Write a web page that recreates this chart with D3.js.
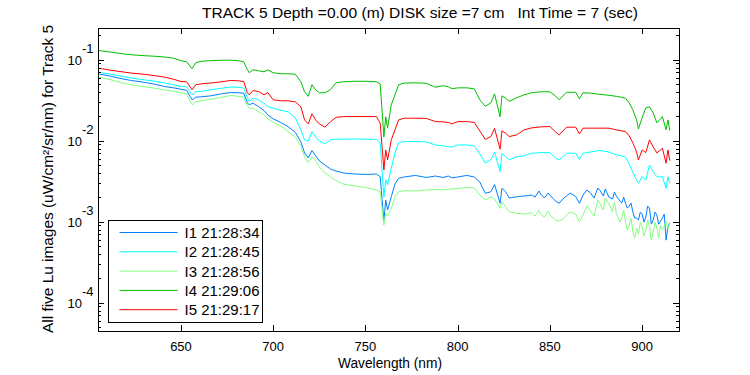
<!DOCTYPE html>
<html>
<head>
<meta charset="utf-8">
<title>Track 5 Lu spectra</title>
<script src="https://d3js.org/d3.v7.min.js"></script>
<style>
  body { margin: 0; background: #fff; }
  text { font-family: "Liberation Sans", Arial, sans-serif; fill: #000; white-space: pre; }
</style>
</head>
<body>
<script>
// wavelength grid (nm)
const wavelength = [605,612,618,623,630,636,641,646,650,653,
  656,658,661,666,672,677,681,684,686,687,
  689,692,695,697,700,704,708,712,715,717,
  719,721,723,725,728,731,734,738,744,750,
  756,758,760,761,762,764,766,768,771,777,
  783,788,792,795,797,800,805,809,812,815,
  818,820,823,824,826,828,832,836,840,845,
  850,853,855,859,864,866,868,872,877,882,
  886,889,891,893,895,897,898,900,902,904,
  906,908,910,911,913,914,915];

// log10 of Lu (uW/cm^2/sr/nm)
const luI1 = [-1.173,-1.204,-1.235,-1.256,-1.278,-1.303,-1.330,-1.347,-1.365,-1.377,
  -1.495,-1.462,-1.458,-1.446,-1.421,-1.405,-1.408,-1.412,-1.532,-1.557,
  -1.536,-1.578,-1.627,-1.681,-1.730,-1.774,-1.825,-1.897,-2.015,-2.151,
  -2.213,-2.120,-2.188,-2.250,-2.299,-2.349,-2.374,-2.398,-2.411,-2.417,
  -2.411,-2.444,-2.993,-2.733,-2.856,-2.692,-2.535,-2.464,-2.448,-2.429,
  -2.454,-2.436,-2.454,-2.436,-2.460,-2.448,-2.429,-2.448,-2.510,-2.650,
  -2.630,-2.541,-2.773,-2.588,-2.630,-2.708,-2.692,-2.683,-2.671,-2.658,
  -2.671,-2.745,-2.773,-2.683,-2.689,-2.773,-2.671,-2.646,-2.609,-2.696,
  -2.683,-2.770,-2.773,-2.807,-2.881,-2.955,-2.980,-2.906,-2.943,-2.832,
  -2.980,-2.918,-2.993,-2.955,-3.228,-3.063,-3.014];

const luI2 = [-1.152,-1.179,-1.204,-1.226,-1.248,-1.266,-1.288,-1.309,-1.328,-1.334,
  -1.433,-1.396,-1.390,-1.371,-1.353,-1.338,-1.340,-1.350,-1.470,-1.516,
  -1.474,-1.495,-1.536,-1.578,-1.600,-1.625,-1.640,-1.718,-1.866,-1.990,
  -2.002,-1.891,-1.953,-2.002,-2.040,-1.990,-1.981,-1.981,-1.978,-1.981,
  -1.984,-2.031,-2.696,-2.485,-2.547,-2.340,-2.151,-2.027,-2.011,-2.011,
  -2.015,-2.052,-2.064,-2.073,-2.077,-2.052,-2.052,-2.064,-2.163,-2.275,
  -2.238,-2.139,-2.382,-2.155,-2.197,-2.238,-2.197,-2.188,-2.155,-2.147,
  -2.147,-2.213,-2.238,-2.155,-2.155,-2.229,-2.155,-2.139,-2.120,-2.139,
  -2.176,-2.188,-2.204,-2.287,-2.386,-2.485,-2.526,-2.444,-2.485,-2.300,
  -2.386,-2.444,-2.448,-2.444,-2.588,-2.444,-2.526];

const luI3 = [-1.214,-1.248,-1.285,-1.309,-1.334,-1.353,-1.371,-1.390,-1.408,-1.421,
  -1.557,-1.520,-1.507,-1.489,-1.464,-1.442,-1.452,-1.462,-1.569,-1.598,
  -1.598,-1.640,-1.681,-1.730,-1.774,-1.817,-1.887,-1.959,-2.064,-2.200,
  -2.271,-2.200,-2.250,-2.324,-2.395,-2.448,-2.491,-2.535,-2.559,-2.578,
  -2.609,-2.630,-3.042,-2.897,-2.931,-2.835,-2.696,-2.630,-2.618,-2.621,
  -2.609,-2.600,-2.609,-2.600,-2.597,-2.590,-2.578,-2.584,-2.671,-2.733,
  -2.692,-2.720,-2.835,-2.754,-2.819,-2.877,-2.897,-2.906,-2.890,-2.906,
  -2.918,-2.980,-2.993,-2.918,-2.906,-3.001,-2.918,-2.869,-2.770,-2.782,
  -2.894,-2.943,-3.005,-3.042,-3.129,-3.079,-3.153,-3.054,-3.116,-3.063,
  -3.129,-3.079,-3.042,-3.104,-3.001,-3.092,-3.021];

const luI4 = [-0.885,-0.906,-0.926,-0.938,-0.950,-0.957,-0.966,-0.981,-1.012,-1.025,
  -1.111,-1.037,-1.019,-1.012,-1.006,-1.006,-1.012,-1.025,-1.124,-1.161,
  -1.124,-1.136,-1.149,-1.124,-1.161,-1.173,-1.173,-1.179,-1.272,-1.396,
  -1.452,-1.309,-1.371,-1.408,-1.408,-1.371,-1.285,-1.272,-1.266,-1.266,
  -1.272,-1.297,-1.953,-1.705,-1.842,-1.557,-1.433,-1.309,-1.288,-1.285,
  -1.291,-1.340,-1.322,-1.334,-1.359,-1.347,-1.347,-1.359,-1.495,-1.575,
  -1.532,-1.421,-1.705,-1.446,-1.476,-1.514,-1.470,-1.433,-1.408,-1.396,
  -1.396,-1.446,-1.495,-1.402,-1.402,-1.483,-1.408,-1.412,-1.427,-1.439,
  -1.452,-1.464,-1.476,-1.532,-1.619,-1.743,-1.854,-1.718,-1.594,-1.582,
  -1.656,-1.780,-1.730,-1.702,-1.866,-1.743,-1.875];

const luI5 = [-1.103,-1.130,-1.149,-1.165,-1.179,-1.198,-1.214,-1.241,-1.269,-1.272,
  -1.371,-1.309,-1.297,-1.288,-1.272,-1.256,-1.260,-1.269,-1.408,-1.433,
  -1.380,-1.392,-1.433,-1.405,-1.495,-1.507,-1.507,-1.520,-1.582,-1.743,
  -1.792,-1.668,-1.743,-1.792,-1.833,-1.767,-1.712,-1.702,-1.702,-1.702,
  -1.702,-1.783,-2.361,-2.114,-2.238,-1.990,-1.866,-1.743,-1.722,-1.722,
  -1.724,-1.764,-1.767,-1.776,-1.792,-1.764,-1.764,-1.774,-1.879,-1.984,
  -1.949,-1.848,-2.105,-1.879,-1.907,-1.949,-1.928,-1.866,-1.842,-1.829,
  -1.825,-1.891,-1.928,-1.833,-1.833,-1.916,-1.845,-1.845,-1.845,-1.845,
  -1.866,-1.879,-1.887,-1.941,-2.027,-2.139,-2.238,-2.114,-2.147,-1.990,
  -2.077,-2.151,-2.114,-2.093,-2.278,-2.114,-2.246];

// extra points in the noisy red end of I1 and I3
const tailWavelength = [842,844,847,849,857,861,870,874,876,879,
  880,884,885,888,890,892,894,896,899,901,
  903,905,907,909,912];
const luI1Tail = [-2.696,-2.621,-2.708,-2.646,-2.720,-2.646,-2.609,-2.708,-2.584,-2.683,
  -2.597,-2.720,-2.634,-2.745,-2.696,-2.832,-2.770,-2.955,-2.881,-3.005,
  -2.807,-3.030,-2.881,-3.030,-2.906];
const luI3Tail = [-2.931,-2.856,-2.943,-2.869,-2.968,-2.881,-2.807,-2.931,-2.733,-2.856,
  -2.708,-2.881,-2.757,-3.005,-2.856,-3.104,-2.955,-3.203,-3.005,-3.178,
  -2.980,-3.228,-3.005,-3.203,-3.054];

const seriesNames = ['I1 21:28:34', 'I2 21:28:45', 'I3 21:28:56', 'I4 21:29:06', 'I5 21:29:17'];
const seriesColors = ['#0080ff', '#00ffff', '#80ff80', '#00c000', '#ff0000'];
const xTicks = [650, 700, 750, 800, 850, 900];
const yTickExps = [-1, -2, -3, -4];

const titleText = 'TRACK 5 Depth =0.00 (m) DISK size =7 cm   Int Time = 7 (sec)';
const xLabel = 'Wavelength (nm)';
const yLabel = 'All five Lu images (uW/cm\u00B2/sr/nm) for Track 5';

const width = 750, height = 375;
const margin = { top: 28, right: 71, bottom: 44, left: 98 };
const plotW = width - margin.left - margin.right;
const plotH = height - margin.top - margin.bottom;

const svg = d3.select('body').append('svg')
  .attr('width', width)
  .attr('height', height);

const x = d3.scaleLinear().domain([605, 920]).range([0, plotW]);
const y = d3.scaleLog().domain([Math.pow(10, -4.35), Math.pow(10, -0.608)]).range([plotH, 0]);

const g = svg.append('g').attr('transform', `translate(${margin.left},${margin.top})`);

// build point lists, merging the extra tail samples where there are some
function points(values, tailValues) {
  const pts = wavelength.map((w, i) => ({ w: w, v: values[i] }));
  if (tailValues) {
    tailWavelength.forEach((w, i) => pts.push({ w: w, v: tailValues[i] }));
  }
  return pts.sort((a, b) => a.w - b.w);
}

const allSeries = [
  points(luI1, luI1Tail),
  points(luI2),
  points(luI3, luI3Tail),
  points(luI4),
  points(luI5)
];

const line = d3.line()
  .x(d => x(d.w))
  .y(d => y(Math.pow(10, d.v)));

g.selectAll('path.curve')
  .data(allSeries)
  .enter()
  .append('path')
  .attr('class', 'curve')
  .attr('d', line)
  .attr('fill', 'none')
  .attr('stroke', (d, i) => seriesColors[i])
  .attr('stroke-width', 1);

// box
g.append('rect')
  .attr('x', 0.5).attr('y', 0.5)
  .attr('width', plotW).attr('height', plotH)
  .attr('fill', 'none').attr('stroke', '#000').attr('stroke-width', 1);

// x ticks (inside, top and bottom)
xTicks.forEach(t => {
  const px = Math.round(x(t)) + 0.5;
  g.append('line').attr('x1', px).attr('x2', px).attr('y1', plotH).attr('y2', plotH - 6).attr('stroke', '#000');
  g.append('line').attr('x1', px).attr('x2', px).attr('y1', 0).attr('y2', 6).attr('stroke', '#000');
  g.append('text')
    .attr('x', x(t)).attr('y', plotH + 20)
    .attr('text-anchor', 'middle')
    .style('font-size', '13px')
    .text(t);
});

// y ticks: majors with labels, minors 2..9
const [yMin, yMax] = y.domain();
for (let e = -5; e <= 0; e++) {
  for (let m = 1; m <= 9; m++) {
    const v = m * Math.pow(10, e);
    if (v < yMin || v > yMax) continue;
    const py = Math.round(y(v)) + 0.5;
    const len = m === 1 ? 6 : 3;
    g.append('line').attr('x1', 0).attr('x2', len).attr('y1', py).attr('y2', py).attr('stroke', '#000');
    g.append('line').attr('x1', plotW).attr('x2', plotW - len).attr('y1', py).attr('y2', py).attr('stroke', '#000');
  }
}

yTickExps.forEach(e => {
  const py = y(Math.pow(10, e));
  g.append('text')
    .attr('x', -16).attr('y', py + 5)
    .attr('text-anchor', 'end')
    .style('font-size', '13px')
    .text('10');
  g.append('text')
    .attr('x', -16).attr('y', py - 7)
    .attr('text-anchor', 'start')
    .style('font-size', '13px')
    .text(String(e));
});

// title and axis labels
svg.append('text')
  .attr('x', 202).attr('y', 18)
  .attr('textLength', 436)
  .attr('lengthAdjust', 'spacingAndGlyphs')
  .style('font-size', '15px')
  .text(titleText);

svg.append('text')
  .attr('x', 338).attr('y', 368)
  .attr('textLength', 104)
  .attr('lengthAdjust', 'spacingAndGlyphs')
  .style('font-size', '14px')
  .text(xLabel);

svg.append('text')
  .attr('transform', `translate(53,333) rotate(-90)`)
  .attr('textLength', 308)
  .attr('lengthAdjust', 'spacingAndGlyphs')
  .style('font-size', '14px')
  .text(yLabel);

// legend
const legend = svg.append('g').attr('transform', 'translate(108.5,220.5)');
legend.append('rect')
  .attr('width', 154).attr('height', 102)
  .attr('fill', '#fff').attr('stroke', '#000');

seriesNames.forEach((name, i) => {
  const ly = 12 + i * 19.3;
  legend.append('line')
    .attr('x1', 11).attr('x2', 69)
    .attr('y1', ly).attr('y2', ly)
    .attr('stroke', seriesColors[i]);
  legend.append('text')
    .attr('x', 76).attr('y', ly + 5.5)
    .attr('textLength', 75)
    .attr('lengthAdjust', 'spacingAndGlyphs')
    .style('font-size', '14px')
    .text(name);
});
</script>
</body>
</html>
